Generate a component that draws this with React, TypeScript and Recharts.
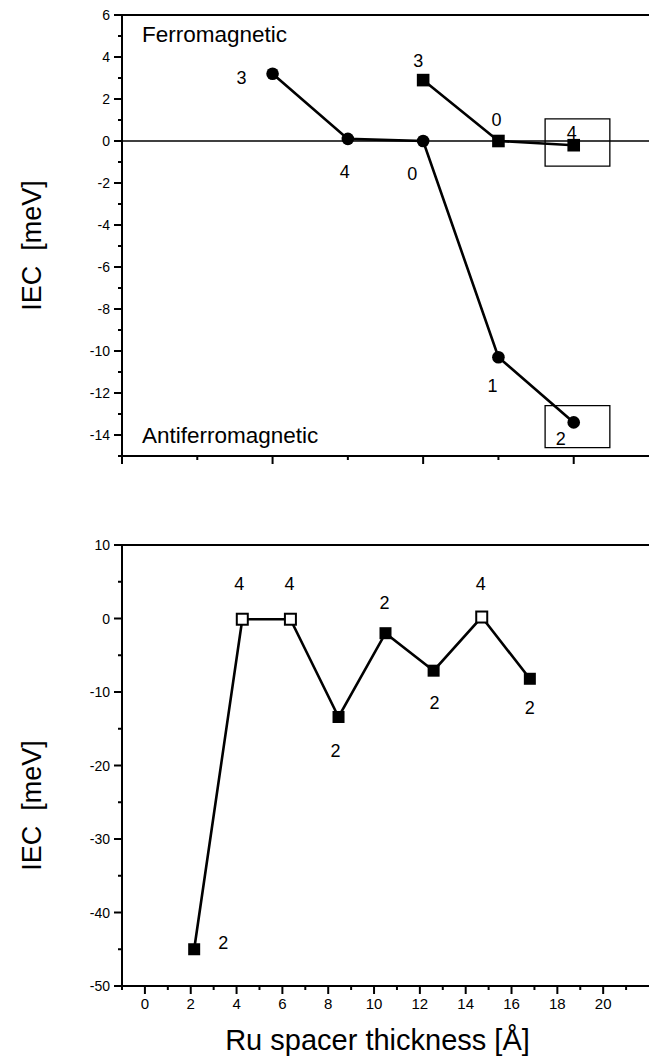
import React from "react"
import { LineChart, Line, XAxis, YAxis, ReferenceLine, ReferenceArea, LabelList } from "recharts"

const FONT = "'Liberation Sans', Arial, Helvetica, sans-serif"

// upper panel (x in tick steps, no tick labels on the original)
const topCircleX = [2, 3, 4, 5, 6]
const topCircleIEC = [3.2, 0.1, 0.0, -10.3, -13.4]
const topCircleLayers = ["3", "4", "0", "1", "2"]

const topSquareX = [4, 5, 6]
const topSquareIEC = [2.9, 0.0, -0.2]
const topSquareLayers = ["3", "0", "4"]

const topXTicks = [0, 1, 2, 3, 4, 5, 6]
const topYTicks = [-15, -14, -13, -12, -11, -10, -9, -8, -7, -6, -5, -4, -3, -2, -1, 0, 1, 2, 3, 4, 5, 6]

// highlighted points
const topBoxes = [
  { x1: 5.62, x2: 6.48, y1: -1.2, y2: 1.05 },
  { x1: 5.62, x2: 6.48, y1: -14.6, y2: -12.6 },
]

// lower panel
const ruThickness = [2.15, 4.25, 6.35, 8.45, 10.5, 12.6, 14.7, 16.8]
const bottomIEC = [-45, -0.1, -0.1, -13.4, -2.0, -7.1, 0.2, -8.2]
const bottomLayers = ["2", "4", "4", "2", "2", "2", "4", "2"]
const bottomOpen = [false, true, true, false, false, false, true, false]

const bottomXTicks = [-1, 0, 1, 2, 3, 4, 5, 6, 7, 8, 9, 10, 11, 12, 13, 14, 15, 16, 17, 18, 19, 20, 21]
const bottomYTicks = [-50, -45, -40, -35, -30, -25, -20, -15, -10, -5, 0, 5, 10]

// where each layer number sits relative to its marker (dx, dy)
const topCircleLabelShift = [[-31, 4], [-3, 33], [-11, 33], [-6, 28], [-13, 16]]
const topSquareLabelShift = [[-5, -20], [-2, -21], [-2, -13]]
const bottomLabelShift = [[29, -7], [-3, -36], [-1, -36], [-3, 34], [-1, -31], [1, 32], [-1, -34], [0, 29]]

const topCircles = topCircleX.map((x, i) => ({ x, iec: topCircleIEC[i], layer: topCircleLayers[i] }))
const topSquares = topSquareX.map((x, i) => ({ x, iec: topSquareIEC[i], layer: topSquareLayers[i] }))
const bottomPoints = ruThickness.map((x, i) => ({
  x,
  iec: bottomIEC[i],
  layer: bottomLayers[i],
  open: bottomOpen[i],
}))

const isMajor = (v: number, every: number) => ((v % every) + every) % every === 0

const yTick = (every: number, fontSize: number) => (props: any) => {
  const { x, y, payload } = props
  const v = payload.value
  const major = isMajor(v, every)
  const len = major ? 8 : 4
  return (
    <g>
      <line x1={x - len} x2={x} y1={y} y2={y} stroke="#000" strokeWidth={2} />
      {major && (
        <text x={x - 12} y={y} dy="0.36em" textAnchor="end" fontSize={fontSize} fontFamily={FONT} fill="#000">
          {v}
        </text>
      )}
    </g>
  )
}

const xTick = (every: number, showLabel: boolean) => (props: any) => {
  const { x, y, payload } = props
  const v = payload.value
  const major = isMajor(v, every)
  const len = major ? 8 : 4
  return (
    <g>
      <line x1={x} x2={x} y1={y} y2={y + len} stroke="#000" strokeWidth={2} />
      {showLabel && major && (
        <text x={x} y={y + 12} dy="0.71em" textAnchor="middle" fontSize={15} fontFamily={FONT} fill="#000">
          {v}
        </text>
      )}
    </g>
  )
}

const layerLabel = (shift: number[][]) => (props: any) => {
  const { x, y, index, value } = props
  const [dx, dy] = shift[index] || [0, 0]
  return (
    <text x={x + dx} y={y + dy} dy="0.36em" textAnchor="middle" fontSize={18} fontFamily={FONT} fill="#000">
      {value}
    </text>
  )
}

const CircleDot = (p: any) => <circle key={p.index} cx={p.cx} cy={p.cy} r={6.3} fill="#000" />
const SquareDot = (p: any) => (
  <rect key={p.index} x={p.cx - 6.3} y={p.cy - 6.3} width={12.6} height={12.6} fill="#000" />
)
const BottomDot = (p: any) => {
  const open = p.payload && p.payload.open
  return open ? (
    <rect key={p.index} x={p.cx - 5.5} y={p.cy - 5.5} width={11} height={11} fill="#fff" stroke="#000" strokeWidth={2} />
  ) : (
    <rect key={p.index} x={p.cx - 6} y={p.cy - 6} width={12} height={12} fill="#000" />
  )
}

const yTitle = (shift: number) => (props: any) => {
  const vb = props.viewBox || { x: 0, y: 0, width: 122, height: 400 }
  const cx = 31
  const cy = vb.y + vb.height / 2 + shift
  return (
    <text
      x={cx}
      y={cy}
      transform={`rotate(-90 ${cx} ${cy})`}
      textAnchor="middle"
      dy="0.36em"
      fontSize={27}
      fontFamily={FONT}
      fill="#000"
      style={{ whiteSpace: "pre" }}
    >
      {"IEC  [meV]"}
    </text>
  )
}

const xTitle = (props: any) => {
  const vb = props.viewBox || { x: 122, y: 0, width: 527, height: 75 }
  return (
    <text x={vb.x + vb.width / 2 - 8} y={vb.y + 64} textAnchor="middle" fontSize={29} fontFamily={FONT} fill="#000">
      Ru spacer thickness [Å]
    </text>
  )
}

const axisLine = { stroke: "#000", strokeWidth: 2 }

export default function App() {
  return (
    <div style={{ position: "absolute", left: 0, top: 0, width: 649, height: 1061, background: "#fff" }}>
      <div style={{ position: "absolute", left: 0, top: 0 }}>
        <LineChart width={649} height={470} margin={{ top: 15, right: 0, bottom: 0, left: 0 }}>
          <XAxis
            type="number"
            dataKey="x"
            domain={[0, 7]}
            ticks={topXTicks}
            interval={0}
            height={14}
            tickSize={0}
            tickMargin={0}
            tickLine={false}
            axisLine={axisLine}
            tick={xTick(2, false)}
            allowDataOverflow
          />
          <YAxis
            type="number"
            domain={[-15, 6]}
            ticks={topYTicks}
            interval={0}
            width={122}
            tickSize={0}
            tickMargin={0}
            tickLine={false}
            axisLine={axisLine}
            tick={yTick(2, 14)}
            allowDataOverflow
            label={{ content: yTitle(10) }}
          />
          <ReferenceLine y={6} stroke="#000" strokeWidth={2} />
          <ReferenceLine y={0} stroke="#000" strokeWidth={1.3} />
          {topBoxes.map((b, i) => (
            <ReferenceArea
              key={i}
              x1={b.x1}
              x2={b.x2}
              y1={b.y1}
              y2={b.y2}
              fill="none"
              fillOpacity={0}
              stroke="#000"
              strokeWidth={1.3}
              ifOverflow="visible"
            />
          ))}
          <Line
            data={topCircles}
            dataKey="iec"
            type="linear"
            stroke="#000"
            strokeWidth={2.6}
            dot={CircleDot}
            activeDot={false}
            isAnimationActive={false}
          >
            <LabelList dataKey="layer" content={layerLabel(topCircleLabelShift)} />
          </Line>
          <Line
            data={topSquares}
            dataKey="iec"
            type="linear"
            stroke="#000"
            strokeWidth={2.6}
            dot={SquareDot}
            activeDot={false}
            isAnimationActive={false}
          >
            <LabelList dataKey="layer" content={layerLabel(topSquareLabelShift)} />
          </Line>
        </LineChart>
        <svg width={649} height={470} style={{ position: "absolute", left: 0, top: 0, pointerEvents: "none" }}>
          <text x={142} y={42} fontSize={22.5} fontFamily={FONT} fill="#000">
            Ferromagnetic
          </text>
          <text x={142} y={443} fontSize={22.5} fontFamily={FONT} fill="#000">
            Antiferromagnetic
          </text>
        </svg>
      </div>

      <div style={{ position: "absolute", left: 0, top: 480 }}>
        <LineChart width={649} height={581} data={bottomPoints} margin={{ top: 65, right: 0, bottom: 0, left: 0 }}>
          <XAxis
            type="number"
            dataKey="x"
            domain={[-1, 22]}
            ticks={bottomXTicks}
            interval={0}
            height={75}
            tickSize={0}
            tickMargin={0}
            tickLine={false}
            axisLine={axisLine}
            tick={xTick(2, true)}
            allowDataOverflow
            label={{ content: xTitle }}
          />
          <YAxis
            type="number"
            domain={[-50, 10]}
            ticks={bottomYTicks}
            interval={0}
            width={122}
            tickSize={0}
            tickMargin={0}
            tickLine={false}
            axisLine={axisLine}
            tick={yTick(10, 14)}
            allowDataOverflow
            label={{ content: yTitle(40) }}
          />
          <ReferenceLine y={10} stroke="#000" strokeWidth={2} />
          <Line
            dataKey="iec"
            type="linear"
            stroke="#000"
            strokeWidth={2.6}
            dot={BottomDot}
            activeDot={false}
            isAnimationActive={false}
          >
            <LabelList dataKey="layer" content={layerLabel(bottomLabelShift)} />
          </Line>
        </LineChart>
      </div>
    </div>
  )
}
